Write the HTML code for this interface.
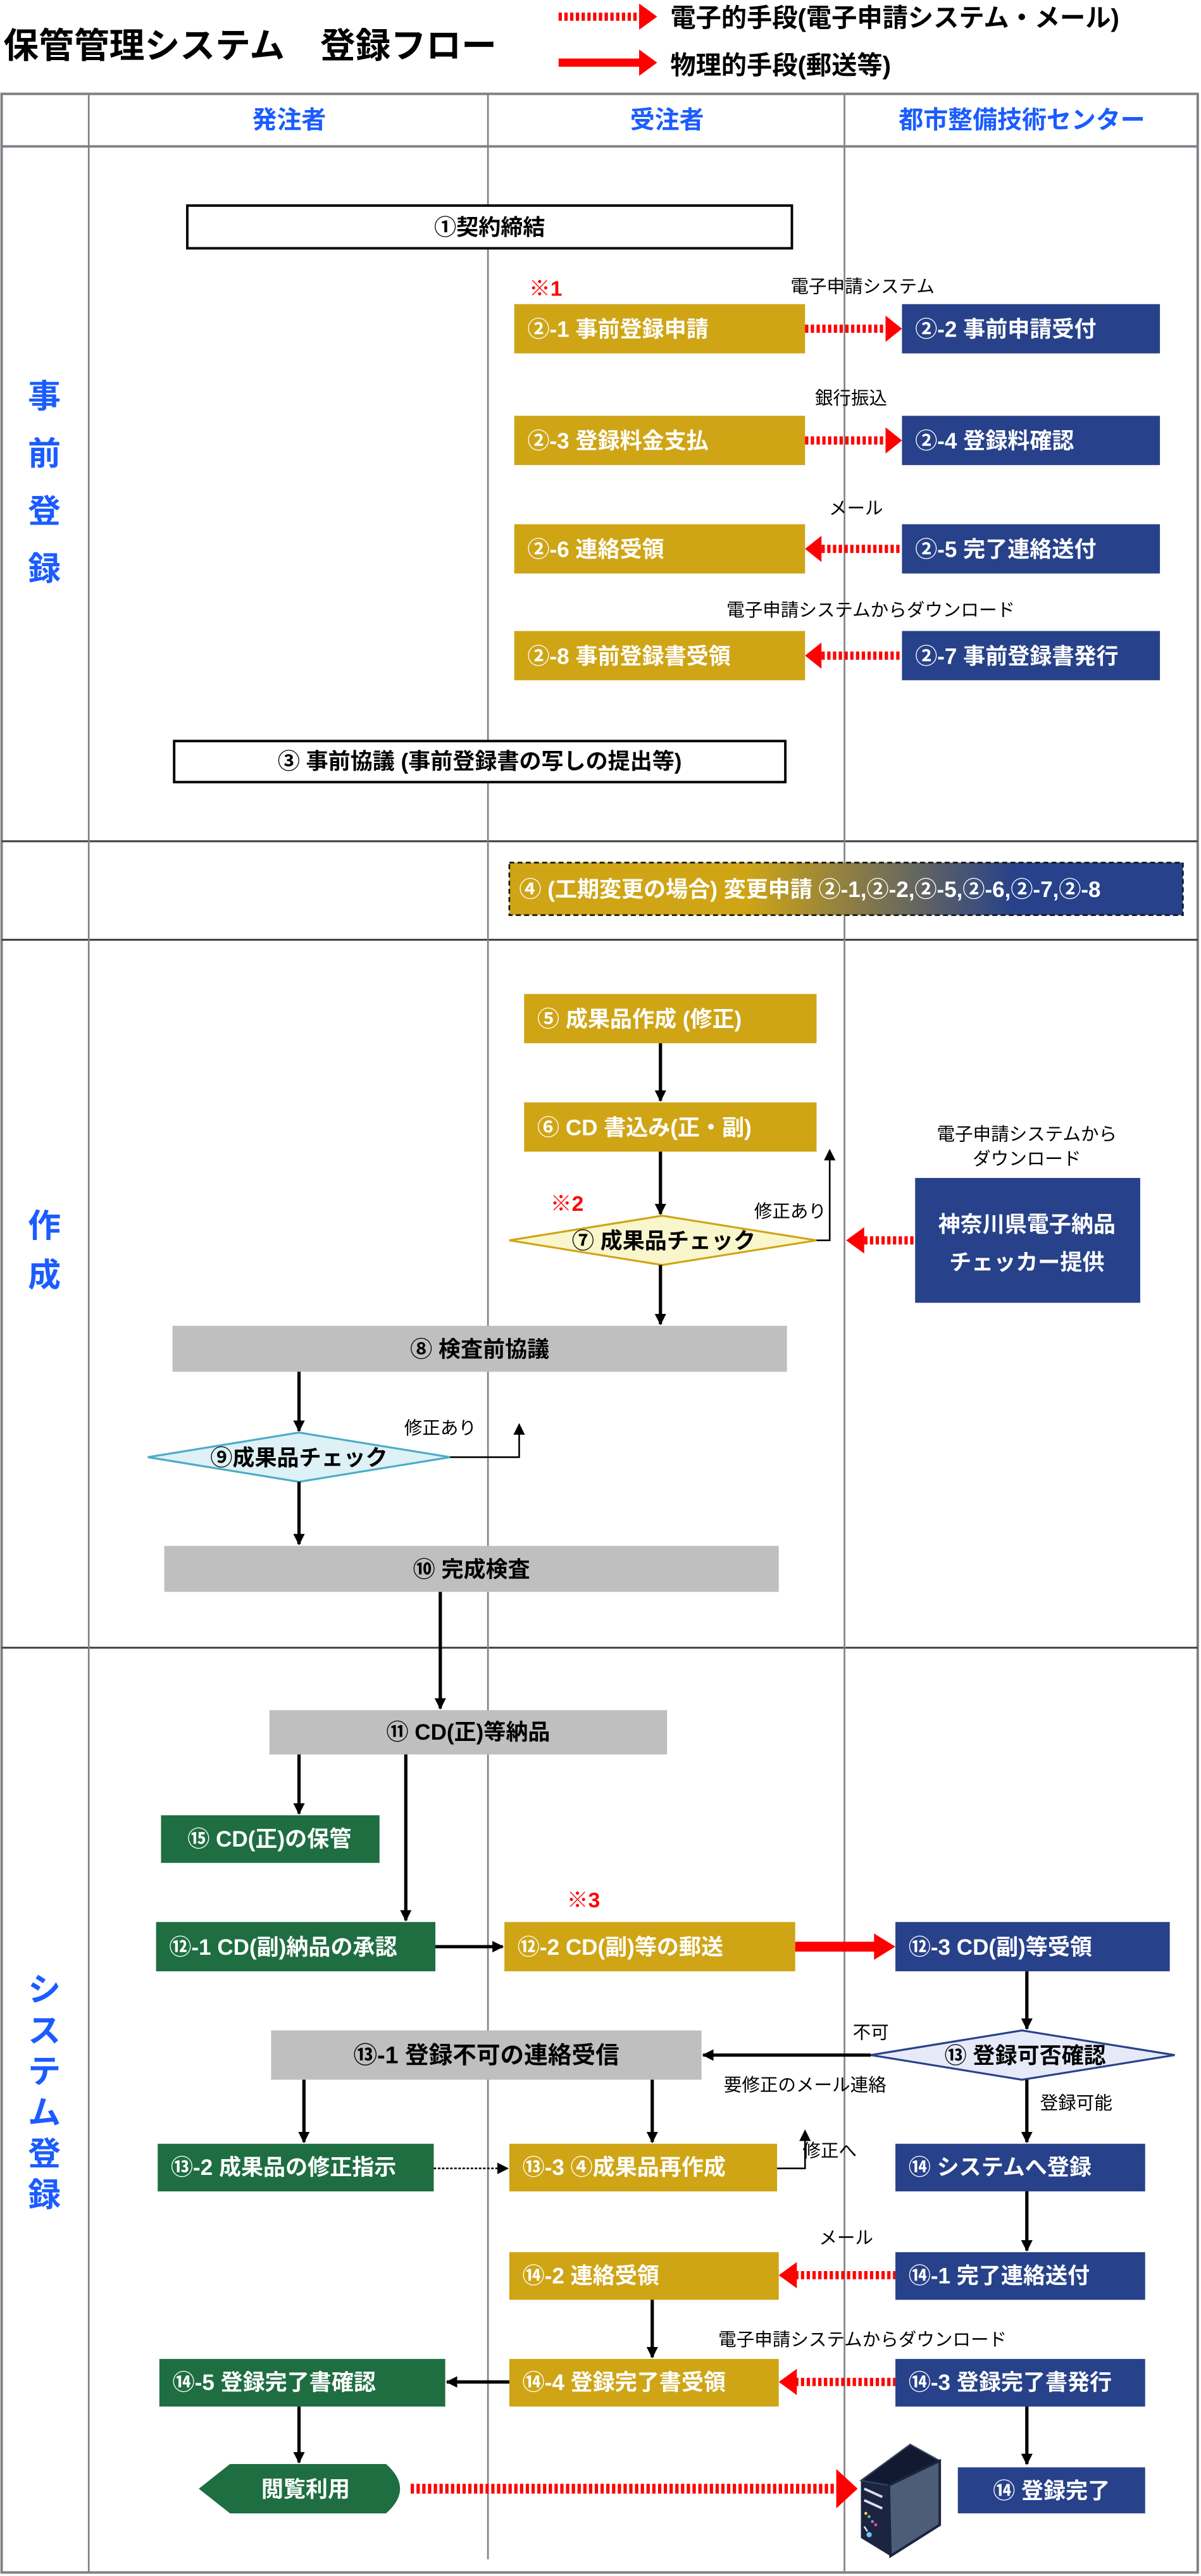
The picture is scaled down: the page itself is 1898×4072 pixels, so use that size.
<!DOCTYPE html>
<html><head><meta charset="utf-8"><style>
html,body{margin:0;padding:0;background:#fff;}
svg{display:block;}
text{font-family:"Liberation Sans","Noto Sans CJK JP",sans-serif;}
.w{fill:#fff;font-weight:bold;font-size:13.5px;}
.b{fill:#000;font-weight:bold;font-size:13.5px;}
.s{fill:#000;font-size:11px;}
.h{fill:#1a5cff;font-weight:bold;font-size:15px;}
.r{fill:#1a5cff;font-weight:bold;font-size:20px;}
.red{fill:#ff0000;font-weight:bold;font-size:13px;}
</style></head><body>
<svg width="1898" height="4072" viewBox="0 0 731 1568" xmlns="http://www.w3.org/2000/svg">
<defs>
<marker id="ah" viewBox="0 0 10 10" refX="9" refY="5" markerWidth="7" markerHeight="7" markerUnits="userSpaceOnUse" orient="auto"><path d="M0,0 L10,5 L0,10 z" fill="#000"/></marker>
<linearGradient id="gr" x1="0" x2="1" y1="0" y2="0"><stop offset="0.35" stop-color="#CFA516"/><stop offset="0.75" stop-color="#27418A"/></linearGradient>
</defs>
<!-- title -->
<text x="2" y="35" style="font-weight:bold;font-size:21.5px" fill="#000">保管管理システム　登録フロー</text>
<line x1="340" y1="10" x2="390" y2="10" stroke="#f00" stroke-width="5" stroke-dasharray="2 1.5"/>
<path d="M389,2 L400,10 L389,18 z" fill="#f00"/>
<text x="408" y="16" style="font-weight:bold;font-size:15.5px">電子的手段(電子申請システム・メール)</text>
<line x1="340" y1="38" x2="390" y2="38" stroke="#f00" stroke-width="5"/>
<path d="M389,30 L400,38 L389,46 z" fill="#f00"/>
<text x="408" y="45" style="font-weight:bold;font-size:15.5px">物理的手段(郵送等)</text>
<!-- grid -->
<rect x="1" y="57" width="728" height="1509" fill="none" stroke="#7f7f86" stroke-width="1.5"/>
<line x1="1" y1="89" x2="729" y2="89" stroke="#7f7f86" stroke-width="1.5"/>
<line x1="1" y1="512" x2="729" y2="512" stroke="#444" stroke-width="1.2"/>
<line x1="1" y1="572" x2="729" y2="572" stroke="#444" stroke-width="1.2"/>
<line x1="1" y1="1003" x2="729" y2="1003" stroke="#444" stroke-width="1.2"/>
<line x1="54" y1="57" x2="54" y2="1566" stroke="#7f7f86"/>
<line x1="297" y1="57" x2="297" y2="1558" stroke="#7f7f86"/>
<line x1="514" y1="57" x2="514" y2="1566" stroke="#7f7f86"/>
<text x="176" y="78" class="h" text-anchor="middle">発注者</text>
<text x="406" y="78" class="h" text-anchor="middle">受注者</text>
<text x="622" y="78" class="h" text-anchor="middle">都市整備技術センター</text>
<text x="27" y="248" class="r" text-anchor="middle">事</text>
<text x="27" y="283" class="r" text-anchor="middle">前</text>
<text x="27" y="318" class="r" text-anchor="middle">登</text>
<text x="27" y="353" class="r" text-anchor="middle">録</text>
<text x="27" y="753" class="r" text-anchor="middle">作</text>
<text x="27" y="783" class="r" text-anchor="middle">成</text>
<text x="27" y="1218" class="r" text-anchor="middle">シ</text>
<text x="27" y="1243" class="r" text-anchor="middle">ス</text>
<text x="27" y="1268" class="r" text-anchor="middle">テ</text>
<text x="27" y="1293" class="r" text-anchor="middle">ム</text>
<text x="27" y="1318" class="r" text-anchor="middle">登</text>
<text x="27" y="1343" class="r" text-anchor="middle">録</text>

<!-- 事前登録 -->
<rect x="114" y="125" width="368" height="26" fill="#fff" stroke="#000" stroke-width="1.5"/>
<text x="298" y="143" class="b" text-anchor="middle">①契約締結</text>
<text x="322" y="180" class="red">※1</text>
<text x="525" y="178" class="s" text-anchor="middle">電子申請システム</text>
<rect x="313" y="185" width="177" height="30" fill="#CFA516"/><text x="321" y="205" class="w">②-1 事前登録申請</text>
<rect x="549" y="185" width="157" height="30" fill="#27418A"/><text x="557" y="205" class="w">②-2 事前申請受付</text>
<line x1="490" y1="200" x2="539" y2="200" stroke="#f00" stroke-width="5" stroke-dasharray="2 1.5"/><path d="M539,192 L549,200 L539,208 z" fill="#f00"/>
<text x="518" y="246" class="s" text-anchor="middle">銀行振込</text>
<rect x="313" y="253" width="177" height="30" fill="#CFA516"/><text x="321" y="273" class="w">②-3 登録料金支払</text>
<rect x="549" y="253" width="157" height="30" fill="#27418A"/><text x="557" y="273" class="w">②-4 登録料確認</text>
<line x1="490" y1="268" x2="539" y2="268" stroke="#f00" stroke-width="5" stroke-dasharray="2 1.5"/><path d="M539,260 L549,268 L539,276 z" fill="#f00"/>
<text x="521" y="313" class="s" text-anchor="middle">メール</text>
<rect x="313" y="319" width="177" height="30" fill="#CFA516"/><text x="321" y="339" class="w">②-6 連絡受領</text>
<rect x="549" y="319" width="157" height="30" fill="#27418A"/><text x="557" y="339" class="w">②-5 完了連絡送付</text>
<line x1="500" y1="334" x2="549" y2="334" stroke="#f00" stroke-width="5" stroke-dasharray="2 1.5"/><path d="M500,326 L490,334 L500,342 z" fill="#f00"/>
<text x="530" y="375" class="s" text-anchor="middle">電子申請システムからダウンロード</text>
<rect x="313" y="384" width="177" height="30" fill="#CFA516"/><text x="321" y="404" class="w">②-8 事前登録書受領</text>
<rect x="549" y="384" width="157" height="30" fill="#27418A"/><text x="557" y="404" class="w">②-7 事前登録書発行</text>
<line x1="500" y1="399" x2="549" y2="399" stroke="#f00" stroke-width="5" stroke-dasharray="2 1.5"/><path d="M500,391 L490,399 L500,407 z" fill="#f00"/>
<rect x="106" y="451" width="372" height="25" fill="#fff" stroke="#000" stroke-width="1.5"/>
<text x="292" y="468" class="b" text-anchor="middle">③ 事前協議 (事前登録書の写しの提出等)</text>

<!-- ④ -->
<rect x="310" y="525" width="410" height="32" fill="url(#gr)" stroke="#111" stroke-dasharray="3 2"/>
<text x="316" y="546" class="w">④ (工期変更の場合) 変更申請 ②-1,②-2,②-5,②-6,②-7,②-8</text>

<!-- 作成 -->
<rect x="319" y="605" width="178" height="30" fill="#CFA516"/><text x="327" y="625" class="w">⑤ 成果品作成 (修正)</text>
<line x1="402" y1="635" x2="402" y2="670" stroke="#000" stroke-width="2" marker-end="url(#ah)"/>
<rect x="319" y="671" width="178" height="30" fill="#CFA516"/><text x="327" y="691" class="w">⑥ CD 書込み(正・副)</text>
<line x1="402" y1="701" x2="402" y2="739" stroke="#000" stroke-width="2" marker-end="url(#ah)"/>
<text x="335" y="737" class="red">※2</text>
<polygon points="310,755 403,740 497,755 403,770" fill="#FAF6CC" stroke="#CFA516" stroke-width="1.2"/>
<text x="404" y="760" class="b" text-anchor="middle">⑦ 成果品チェック</text>
<text x="481" y="741" class="s" text-anchor="middle">修正あり</text>
<polyline points="497,755 505,755 505,700" fill="none" stroke="#000" stroke-width="1" marker-end="url(#ah)"/>
<text x="625" y="694" class="s" text-anchor="middle">電子申請システムから</text>
<text x="625" y="709" class="s" text-anchor="middle">ダウンロード</text>
<rect x="557" y="717" width="137" height="76" fill="#27418A"/>
<text x="625" y="750" class="w" text-anchor="middle">神奈川県電子納品</text>
<text x="625" y="773" class="w" text-anchor="middle">チェッカー提供</text>
<line x1="526" y1="755" x2="557" y2="755" stroke="#f00" stroke-width="5" stroke-dasharray="2 1.5"/><path d="M526,747 L515,755 L526,763 z" fill="#f00"/>
<line x1="402" y1="770" x2="402" y2="806" stroke="#000" stroke-width="2" marker-end="url(#ah)"/>
<rect x="105" y="807" width="374" height="28" fill="#BFBFBF"/><text x="292" y="826" class="b" text-anchor="middle">⑧ 検査前協議</text>
<line x1="182" y1="835" x2="182" y2="871" stroke="#000" stroke-width="2" marker-end="url(#ah)"/>
<polygon points="90,887 182,872 274,887 182,902" fill="#DDF1F6" stroke="#4BACC6" stroke-width="1.2"/>
<text x="182" y="892" class="b" text-anchor="middle">⑨成果品チェック</text>
<text x="268" y="873" class="s" text-anchor="middle">修正あり</text>
<polyline points="274,887 316,887 316,867" fill="none" stroke="#000" stroke-width="1" marker-end="url(#ah)"/>
<line x1="182" y1="902" x2="182" y2="940" stroke="#000" stroke-width="2" marker-end="url(#ah)"/>
<rect x="100" y="941" width="374" height="28" fill="#BFBFBF"/><text x="287" y="960" class="b" text-anchor="middle">⑩ 完成検査</text>
<line x1="268" y1="969" x2="268" y2="1040" stroke="#000" stroke-width="2" marker-end="url(#ah)"/>

<!-- システム登録 -->
<rect x="164" y="1041" width="242" height="27" fill="#BFBFBF"/><text x="285" y="1059" class="b" text-anchor="middle">⑪ CD(正)等納品</text>
<line x1="182" y1="1068" x2="182" y2="1104" stroke="#000" stroke-width="2" marker-end="url(#ah)"/>
<rect x="98" y="1105" width="133" height="29" fill="#1E6E42"/><text x="164" y="1124" class="w" text-anchor="middle">⑮ CD(正)の保管</text>
<line x1="247" y1="1068" x2="247" y2="1169" stroke="#000" stroke-width="2" marker-end="url(#ah)"/>
<rect x="95" y="1170" width="170" height="30" fill="#1E6E42"/><text x="103" y="1190" class="w">⑫-1 CD(副)納品の承認</text>
<line x1="265" y1="1185" x2="306" y2="1185" stroke="#000" stroke-width="2" marker-end="url(#ah)"/>
<text x="345" y="1161" class="red">※3</text>
<rect x="307" y="1170" width="177" height="30" fill="#CFA516"/><text x="315" y="1190" class="w">⑫-2 CD(副)等の郵送</text>
<line x1="484" y1="1185" x2="533" y2="1185" stroke="#f00" stroke-width="6"/><path d="M532,1177 L545,1185 L532,1193 z" fill="#f00"/>
<rect x="545" y="1170" width="167" height="30" fill="#27418A"/><text x="553" y="1190" class="w">⑫-3 CD(副)等受領</text>
<line x1="625" y1="1200" x2="625" y2="1235" stroke="#000" stroke-width="2" marker-end="url(#ah)"/>
<polygon points="530,1251 622,1236 715,1251 622,1266" fill="#E6E9F8" stroke="#27418A" stroke-width="1.2"/>
<text x="624" y="1256" class="b" text-anchor="middle">⑬ 登録可否確認</text>
<text x="530" y="1241" class="s" text-anchor="middle">不可</text>
<line x1="530" y1="1251" x2="428" y2="1251" stroke="#000" stroke-width="2" marker-end="url(#ah)"/>
<rect x="165" y="1236" width="262" height="30" fill="#BFBFBF"/><text x="296" y="1256" class="b" text-anchor="middle" style="font-size:14.5px">⑬-1 登録不可の連絡受信</text>
<text x="490" y="1273" class="s" text-anchor="middle">要修正のメール連絡</text>
<text x="655" y="1284" class="s" text-anchor="middle">登録可能</text>
<line x1="185" y1="1266" x2="185" y2="1304" stroke="#000" stroke-width="2" marker-end="url(#ah)"/>
<line x1="397" y1="1266" x2="397" y2="1304" stroke="#000" stroke-width="2" marker-end="url(#ah)"/>
<line x1="625" y1="1266" x2="625" y2="1304" stroke="#000" stroke-width="2" marker-end="url(#ah)"/>
<rect x="96" y="1305" width="168" height="29" fill="#1E6E42"/><text x="104" y="1324" class="w">⑬-2 成果品の修正指示</text>
<line x1="264" y1="1320" x2="309" y2="1320" stroke="#000" stroke-width="1" stroke-dasharray="1.5 1" marker-end="url(#ah)"/>
<rect x="310" y="1305" width="163" height="29" fill="#CFA516"/><text x="318" y="1324" class="w">⑬-3 ④成果品再作成</text>
<text x="505" y="1313" class="s" text-anchor="middle">修正へ</text>
<polyline points="473,1320 490,1320 490,1297" fill="none" stroke="#000" stroke-width="1" marker-end="url(#ah)"/>
<rect x="545" y="1305" width="152" height="29" fill="#27418A"/><text x="553" y="1324" class="w">⑭ システムへ登録</text>
<line x1="625" y1="1334" x2="625" y2="1370" stroke="#000" stroke-width="2" marker-end="url(#ah)"/>
<text x="515" y="1366" class="s" text-anchor="middle">メール</text>
<rect x="310" y="1371" width="164" height="29" fill="#CFA516"/><text x="318" y="1390" class="w">⑭-2 連絡受領</text>
<rect x="545" y="1371" width="152" height="29" fill="#27418A"/><text x="553" y="1390" class="w">⑭-1 完了連絡送付</text>
<line x1="484" y1="1385" x2="545" y2="1385" stroke="#f00" stroke-width="5" stroke-dasharray="2 1.5"/><path d="M485,1377 L474,1385 L485,1393 z" fill="#f00"/>
<line x1="397" y1="1400" x2="397" y2="1435" stroke="#000" stroke-width="2" marker-end="url(#ah)"/>
<text x="525" y="1428" class="s" text-anchor="middle">電子申請システムからダウンロード</text>
<rect x="310" y="1436" width="164" height="29" fill="#CFA516"/><text x="318" y="1455" class="w">⑭-4 登録完了書受領</text>
<rect x="545" y="1436" width="152" height="29" fill="#27418A"/><text x="553" y="1455" class="w">⑭-3 登録完了書発行</text>
<line x1="484" y1="1450" x2="545" y2="1450" stroke="#f00" stroke-width="5" stroke-dasharray="2 1.5"/><path d="M485,1442 L474,1450 L485,1458 z" fill="#f00"/>
<line x1="625" y1="1465" x2="625" y2="1500" stroke="#000" stroke-width="2" marker-end="url(#ah)"/>
<rect x="97" y="1436" width="174" height="29" fill="#1E6E42"/><text x="105" y="1455" class="w">⑭-5 登録完了書確認</text>
<line x1="310" y1="1450" x2="272" y2="1450" stroke="#000" stroke-width="2" marker-end="url(#ah)"/>
<line x1="182" y1="1465" x2="182" y2="1499" stroke="#000" stroke-width="2" marker-end="url(#ah)"/>
<path d="M121,1515 L140,1500 L235,1500 Q252,1515 235,1530 L140,1530 z" fill="#1E6E42"/>
<text x="186" y="1520" class="w" text-anchor="middle">閲覧利用</text>
<line x1="250" y1="1515" x2="510" y2="1515" stroke="#f00" stroke-width="6" stroke-dasharray="2 1.5"/><path d="M509,1503 L522,1515 L509,1527 z" fill="#f00"/>
<!-- server -->
<polygon points="524,1510 554,1488 572,1498 572,1537 542,1556 524,1545" fill="#1b2440"/>
<polygon points="524,1510 554,1488 572,1498 541,1513" fill="#111a30" stroke="#3a4766" stroke-width="0.8"/>
<polygon points="541,1513 572,1498 572,1537 542,1556" fill="#4d5d78" stroke="#1b2440" stroke-width="1.5"/>
<line x1="526" y1="1515" x2="537" y2="1520" stroke="#dde" stroke-width="1.5"/>
<line x1="526" y1="1522" x2="537" y2="1527" stroke="#dde" stroke-width="1.5"/>
<circle cx="527" cy="1530" r="0.9" fill="#fc6"/><circle cx="529" cy="1532" r="0.9" fill="#6c6"/>
<circle cx="531" cy="1535" r="0.9" fill="#a7f"/><circle cx="533" cy="1537" r="0.9" fill="#f57"/>
<circle cx="529" cy="1543" r="1.6" fill="#6cf"/><line x1="526" y1="1538" x2="528" y2="1541" stroke="#dde" stroke-width="1"/>
<rect x="583" y="1502" width="114" height="28" fill="#27418A"/><text x="640" y="1521" class="w" text-anchor="middle">⑭ 登録完了</text>
</svg>
</body></html>
